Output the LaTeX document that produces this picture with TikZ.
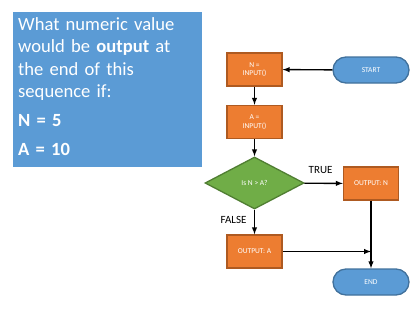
\documentclass[tikz,border=0pt]{standalone}
\usepackage{fontspec}
\setmainfont{Carlito}
\usetikzlibrary{shapes.geometric}
\definecolor{officeblue}{RGB}{91,155,213}
\definecolor{blueedge}{RGB}{65,113,156}
\definecolor{officeorange}{RGB}{237,125,49}
\definecolor{orangeedge}{RGB}{174,90,33}
\definecolor{officegreen}{RGB}{112,173,71}
\definecolor{greenedge}{RGB}{80,126,50}

\tikzset{
  process/.style={draw=orangeedge, line width=1.3pt, fill=officeorange, text=white,
    minimum width=55pt, minimum height=33pt, align=center, font=\fontsize{7.5}{8.5}\selectfont},
  terminal/.style={draw=blueedge, line width=1.3pt, fill=officeblue, text=white,
    minimum width=76pt, minimum height=26pt, rounded corners=13pt, font=\fontsize{7.5}{8.5}\selectfont},
  decision/.style={diamond, draw=greenedge, line width=1.3pt, fill=officegreen, text=white,
    minimum width=99pt, minimum height=52pt, inner sep=0pt, font=\fontsize{7.5}{8.5}\selectfont},
}

\begin{document}
\begin{tikzpicture}[x=1pt, y=-1pt, every node/.style={font=\small}]
    \useasboundingbox (0,0) rectangle (418,311);
    % question panel
    \fill[officeblue] (13,12) rectangle (202,167);
    \node[anchor=north west, text width=183pt, align=left, inner sep=0pt, text=white,
          font=\fontsize{18.6}{22.3}\selectfont] (questiontext) at (18,17.5)
          {What numeric value\\would be \textbf{output} at\\the end of this\\sequence if:\\[6.5pt]\textbf{N = 5}\\[6.5pt]\textbf{A = 10}};
    % flowchart
    \node[terminal] (start) at (371,70) {START};
    \node[process] (ninput) at (254.5,69.5) {N =\\INPUT()};
    \node[process] (ainput) at (254.5,122) {A =\\INPUT()};
    \node[decision] (test) at (254.5,183) {Is N > A?};
    \node[process] (outn) at (371,183.5) {OUTPUT: N};
    \node[process] (outa) at (254.5,251.5) {OUTPUT: A};
    \node[terminal] (end) at (371,282) {END};
    \coordinate (join) at (outa.east -| outn.south);
    \draw[-latex, line width=1.4pt] (start) -- (ninput);
    \draw[-latex, line width=1.4pt] (ninput) -- (ainput);
    \draw[-latex, line width=1.4pt] (ainput) -- (test);
    \draw[-latex, line width=1.4pt] (test) -- node[above=6pt, xshift=-3pt, font=\fontsize{11}{12}\selectfont] (truelabel) {TRUE} (outn);
    \draw[-latex, line width=1.4pt] (test) -- node[left, font=\fontsize{11}{12}\selectfont, xshift=-4pt, yshift=2pt] (falselabel) {FALSE} (outa);
    \draw[-latex, line width=1.4pt] (outn) -- (end);
    \draw[-latex, line width=1.4pt] (outa) -- (join);
\end{tikzpicture}
\end{document}
